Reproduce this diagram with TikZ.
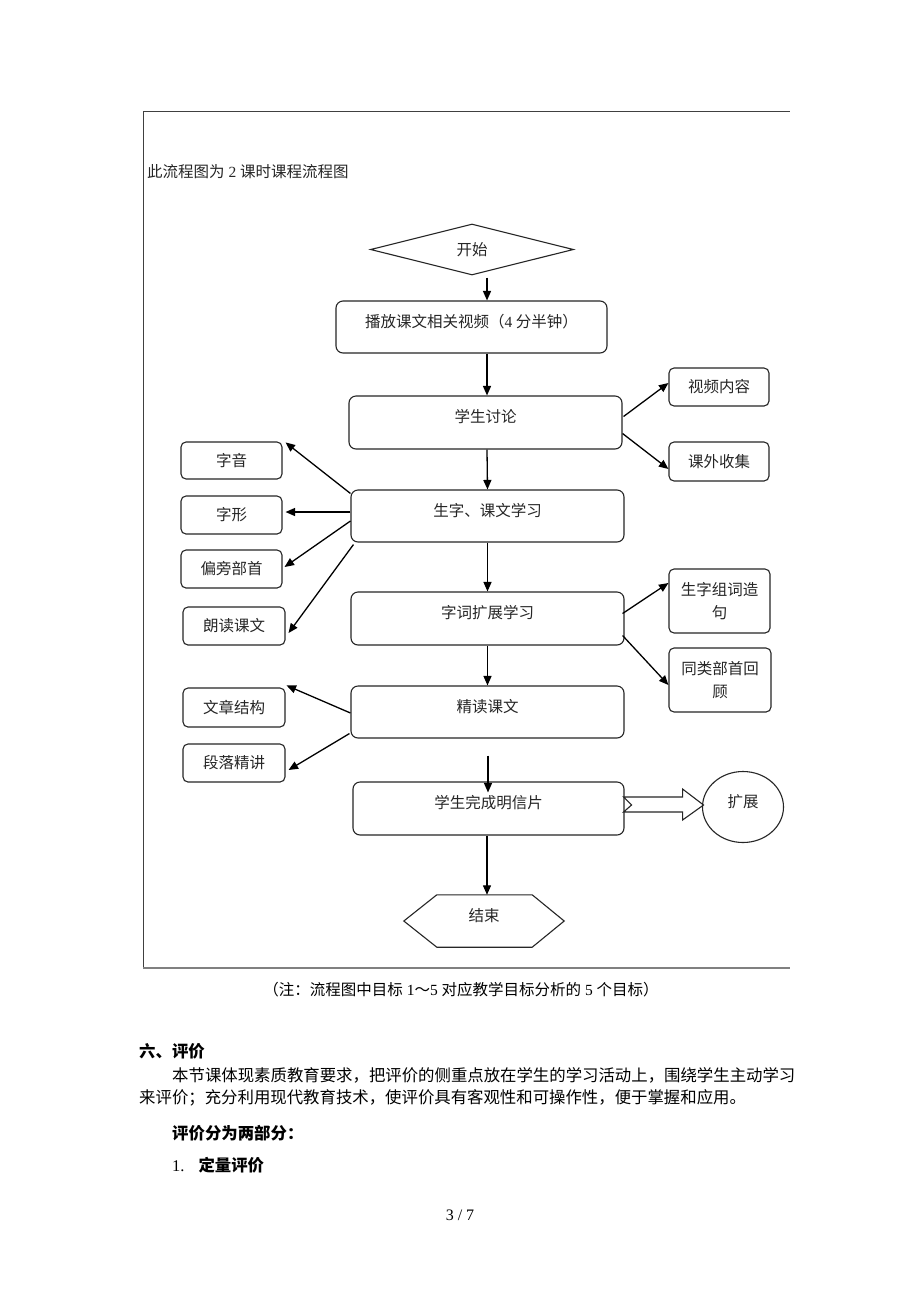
\documentclass[tikz,border=0pt]{standalone}
\usepackage{fontspec}
\setmainfont{Noto Sans CJK SC}
\newfontfamily\lat{Liberation Serif}
\usetikzlibrary{shapes.geometric,arrows.meta,calc}
\begin{document}
\begin{tikzpicture}[x=1pt,y=-1pt,
  txt/.style={font=\fontsize{15.5}{18}\selectfont, text=black!85},
  box/.style={txt, draw=black!85, line width=1.1pt, rounded corners=7pt, text height=8pt, text depth=8pt, inner sep=0pt},
  sbox/.style={draw=black!85, line width=1.1pt, rounded corners=5pt, font=\fontsize{15.5}{23}\selectfont, text=black!85, align=center, inner sep=0pt},
  arr/.style={line width=1.3pt, -{Triangle[length=9.5pt,width=8pt]}},
  para/.style={font=\fontsize{16.4}{18}\selectfont, anchor=west, inner sep=0pt},
]
\useasboundingbox (0,0) rectangle (920,1302);
\fill[white] (0,0) rectangle (920,1302);

% frame
\draw[black!75, line width=1pt] (143,111) -- (790,111);
\draw[black!75, line width=1pt] (143,111) -- (143,968);
\draw[black!50, line width=1.6pt] (143,968) -- (790,968);

\node[txt, anchor=west, inner sep=0pt] (title) at (147,172) {此流程图为{\lat\ 2 }课时课程流程图};

% main column
\node[txt, draw=black!85, line width=1.1pt, diamond, minimum width=203pt, minimum height=51pt, inner sep=0pt] (start) at (472,249.5) {开始};
\node[box, minimum width=271pt, minimum height=52pt] (play) at (471.5,327) {播放课文相关视频（{\lat 4} 分半钟）};
\node[box, minimum width=273pt, minimum height=53pt] (disc) at (485.5,422.5) {学生讨论};
\node[box, minimum width=273pt, minimum height=52pt] (learn) at (487.5,516) {生字、课文学习};
\node[box, minimum width=273pt, minimum height=53pt] (ext) at (487.5,618.5) {字词扩展学习};
\node[box, minimum width=273pt, minimum height=52pt] (jd) at (487.5,712) {精读课文};
\node[box, minimum width=271pt, minimum height=53pt] (fin) at (488.5,808.5) {学生完成明信片};
\node[txt, minimum width=160pt, minimum height=52pt, inner sep=0pt, text height=8pt, text depth=8pt] (end) at (484,921) {结束};
\draw[black!85, line width=1.1pt] (end.west) -- ([xshift=33pt]end.north west) -- ([xshift=-32pt]end.north east) -- (end.east) -- ([xshift=-32pt]end.south east) -- ([xshift=33pt]end.south west) -- cycle;
\node[txt, draw=black!85, line width=1.1pt, ellipse, minimum width=81pt, minimum height=71pt, inner sep=0pt, text height=8pt, text depth=8pt] (expand) at (743,807) {扩展};

% right boxes
\node[sbox, minimum width=100pt, minimum height=38pt] (vid) at (719,387) {视频内容};
\node[sbox, minimum width=100pt, minimum height=39pt] (coll) at (719,461.5) {课外收集};
\node[sbox, minimum width=101pt, minimum height=64pt] (zc) at (719.5,601) {生字组词造\\句};
\node[sbox, minimum width=102pt, minimum height=64pt] (tl) at (720,680) {同类部首回\\顾};

% left boxes
\node[sbox, minimum width=101pt, minimum height=37pt] (zy) at (231.5,460.5) {字音};
\node[sbox, minimum width=101pt, minimum height=38pt] (zx) at (231.5,515) {字形};
\node[sbox, minimum width=101pt, minimum height=38pt] (pp) at (231.5,569) {偏旁部首};
\node[sbox, minimum width=102pt, minimum height=38pt] (ld) at (234,626) {朗读课文};
\node[sbox, minimum width=102pt, minimum height=39pt] (wz) at (234,707.5) {文章结构};
\node[sbox, minimum width=102pt, minimum height=38pt] (dl) at (234,763) {段落精讲};

% main arrows
\draw[arr] ($(start.south)+(15,2)$) -- ($(play.north)+(15.5,0)$);
\draw[arr] ($(play.south)+(15.5,0)$) -- ($(disc.north)+(1.5,0)$);
\draw[arr] ($(disc.south)+(1.5,0)$) -- (learn.north);
\draw[arr] (learn.south) -- (ext.north);
\draw[arr] (ext.south) -- (jd.north);
\coordinate (gap) at ($(jd.south)+(0.5,17)$);
\coordinate (inside) at ($(fin.north)+(-0.5,11)$);
\draw[arr] (gap) -- (inside);
\coordinate (finout) at ($(fin.south)+(-1.5,0)$);
\draw[arr] (finout) -- (finout |- end.north);

% side arrows
\draw[arr] ($(disc.east)+(1,-6)$) -- ($(vid.west)+(0,-4)$);
\draw[arr] ($(disc.east)+(0,11)$) -- ($(coll.west)+(0,7.5)$);
\draw[arr] ($(learn.north west)+(0,4)$) -- ($(zy.north east)+(3,1)$);
\draw[arr] ($(learn.west)+(0,-4)$) -- ($(zx.east)+(3,-3)$);
\draw[arr] ($(learn.west)+(0,5)$) -- ($(pp.east)+(2,-2)$);
\draw[arr] ($(learn.south west)+(3,2)$) -- ($(ld.east)+(3,7)$);
\draw[arr] ($(ext.east)+(-2,-5)$) -- ($(zc.west)+(0,-18)$);
\draw[arr] ($(ext.east)+(-2,17)$) -- ($(tl.west)+(0,5)$);
\draw[arr] ($(jd.west)+(0,1)$) -- ($(wz.north east)+(1,-2)$);
\draw[arr] ($(jd.south west)+(-1,-5)$) -- ($(dl.east)+(3,7)$);

% block arrow
\draw[black!85, line width=1.1pt] ($(fin.east)+(-1,-11.5)$) -- ++(59,0) -- ++(0,-8) -- ++(21,16) -- ++(-21,15) -- ++(0,-8) -- ++(-59,0) -- ++(8,-7) -- cycle;

% text below
\node[txt, text=black] (note) at (461,990) {（注：流程图中目标{\lat\ 1}～{\lat 5 }对应教学目标分析的{\lat\ 5 }个目标）};
\node[para, font=\fontsize{16.4}{18}\selectfont\bfseries] (h6) at (139,1051) {六、评价};
\node[para] (p1) at (172,1075) {本节课体现素质教育要求，把评价的侧重点放在学生的学习活动上，围绕学生主动学习};
\node[para] (p2) at (139,1098) {来评价；充分利用现代教育技术，使评价具有客观性和可操作性，便于掌握和应用。};
\node[para, font=\fontsize{16.4}{18}\selectfont\bfseries] (h2) at (172,1133) {评价分为两部分：};
\node[para] (n1) at (172,1165) {{\lat 1.}\hspace{14pt}{\bfseries 定量评价}};
\node[font=\lat\fontsize{16}{18}\selectfont] (pg) at (460,1215) {3 / 7};
\end{tikzpicture}
\end{document}
